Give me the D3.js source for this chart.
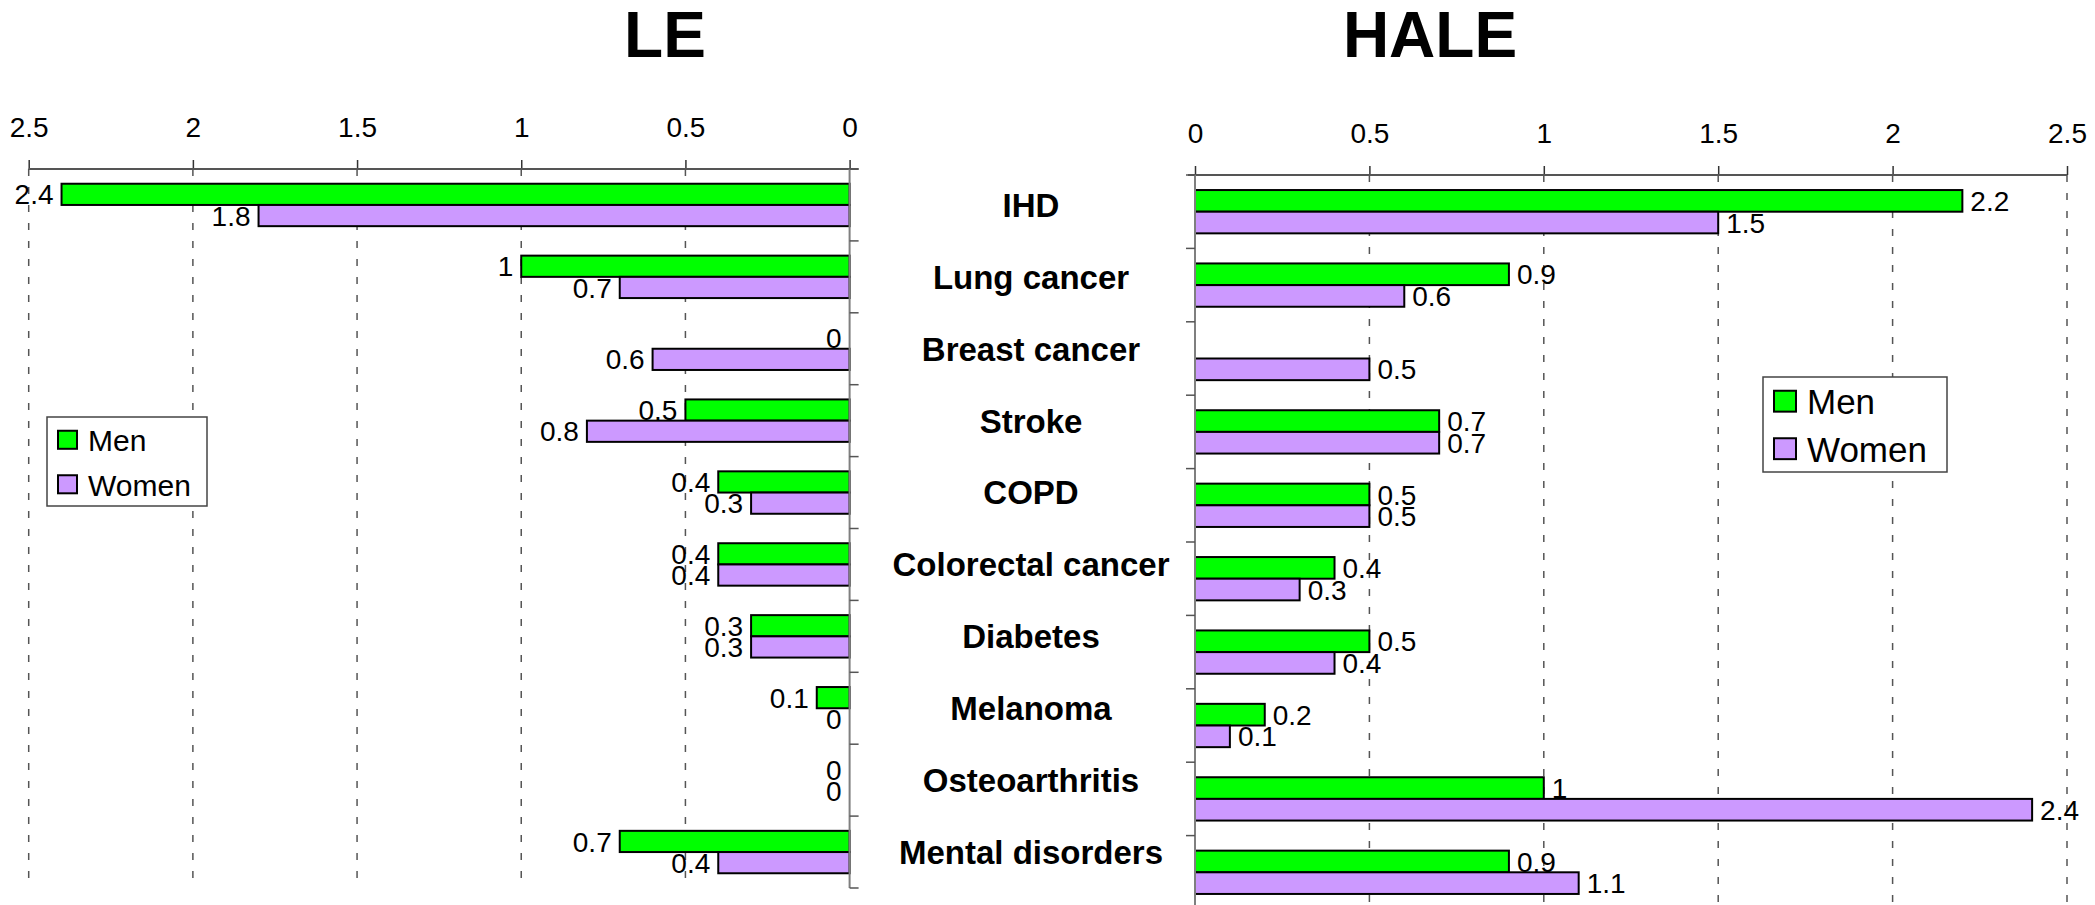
<!DOCTYPE html>
<html>
<head>
<meta charset="utf-8">
<script src="https://cdn.jsdelivr.net/npm/d3@7/dist/d3.min.js"></script>
<style>
  html, body { margin: 0; padding: 0; background: #ffffff; }
  svg { display: block; }
  text { font-family: "Liberation Sans", Arial, sans-serif; fill: #000; }
</style>
</head>
<body>
<svg id="chart" width="2095" height="905"></svg>
<script>
// Causes of loss, in years
const categories = ["IHD", "Lung cancer", "Breast cancer", "Stroke", "COPD",
  "Colorectal cancer", "Diabetes", "Melanoma", "Osteoarthritis", "Mental disorders"];
const seriesNames = ["Men", "Women"];
const leMen     = [2.4, 1, 0, 0.5, 0.4, 0.4, 0.3, 0.1, 0, 0.7];
const leWomen   = [1.8, 0.7, 0.6, 0.8, 0.3, 0.4, 0.3, 0, 0, 0.4];
const haleMen   = [2.2, 0.9, null, 0.7, 0.5, 0.4, 0.5, 0.2, 1, 0.9];
const haleWomen = [1.5, 0.6, 0.5, 0.7, 0.5, 0.3, 0.4, 0.1, 2.4, 1.1];
const tickValues = [0, 0.5, 1, 1.5, 2, 2.5];

const colors = { Men: "#00ff00", Women: "#cc99ff" };
const axisGray = "#7f7f7f";

const svg = d3.select("#chart");

// Panel layouts
const panels = [
  {
    title: "LE", titleX: 665,
    men: leMen, women: leWomen,
    x: d3.scaleLinear().domain([0, 2.5]).range([849.6, 28.7]),
    y: d3.scaleBand().domain(categories).range([169, 888]),
    dir: -1,
    legend: { x: 47, y: 417, w: 160, h: 89, font: 30, sw: 19, pad: 11 }
  },
  {
    title: "HALE", titleX: 1430,
    men: haleMen, women: haleWomen,
    x: d3.scaleLinear().domain([0, 2.5]).range([1195, 2067]),
    y: d3.scaleBand().domain(categories).range([175, 909]),
    dir: 1,
    legend: { x: 1763, y: 377, w: 184, h: 95, font: 35, sw: 22, pad: 11 }
  }
];

panels.forEach(p => {
  const g = svg.append("g");
  const x = p.x, y = p.y;
  const x0 = x(0);
  const top = y.range()[0], bottom = y.range()[1];
  const step = y.step();

  // Title
  g.append("text")
    .attr("x", p.titleX).attr("y", 57)
    .attr("text-anchor", "middle")
    .style("font-size", "64px").style("font-weight", "bold")
    .text(p.title);

  // Dashed gridlines
  g.append("g").selectAll("line")
    .data(tickValues.filter(d => d !== 0))
    .join("line")
    .attr("x1", d => x(d)).attr("x2", d => x(d))
    .attr("y1", top).attr("y2", bottom)
    .attr("stroke", "#555").attr("stroke-width", 1.5)
    .attr("stroke-dasharray", "7,11");

  // Value axis on top
  const axis = d3.axisTop(x)
    .tickValues(tickValues)
    .tickFormat(d3.format(""))
    .tickSizeInner(9).tickSizeOuter(0).tickPadding(23);
  const ax = g.append("g").attr("transform", `translate(0,${top})`).call(axis);
  ax.select(".domain").remove();
  ax.selectAll(".tick line").attr("stroke", "#333").attr("stroke-width", 1.5);
  ax.selectAll(".tick text")
    .style("font-size", "28px")
    .style("font-family", "\"Liberation Sans\", Arial, sans-serif")
    .attr("fill", "#000");
  const xMin = Math.min(x(0), x(2.5)), xMax = Math.max(x(0), x(2.5));
  g.append("line")
    .attr("x1", p.dir < 0 ? xMin : x0 - 7)
    .attr("x2", p.dir < 0 ? x0 + 9 : xMax)
    .attr("y1", top).attr("y2", top)
    .attr("stroke", "#555").attr("stroke-width", 2);

  // Bars
  const bandOff = 0.205 * step, barH = 0.295 * step;
  const rows = [];
  categories.forEach((c, i) => {
    rows.push({ cat: c, s: "Men", v: p.men[i], y0: y(c) + bandOff });
    rows.push({ cat: c, s: "Women", v: p.women[i], y0: y(c) + bandOff + barH });
  });

  g.append("g").selectAll("rect")
    .data(rows.filter(r => r.v !== null && r.v > 0))
    .join("rect")
    .attr("x", r => Math.min(x(r.v), x0))
    .attr("width", r => Math.abs(x(r.v) - x0))
    .attr("y", r => r.y0)
    .attr("height", barH)
    .attr("fill", r => colors[r.s])
    .attr("stroke", "#000").attr("stroke-width", 2);

  // Value labels
  g.append("g").selectAll("text")
    .data(rows.filter(r => r.v !== null))
    .join("text")
    .attr("x", r => x(r.v) + p.dir * 8)
    .attr("y", r => r.y0 + barH / 2)
    .attr("dy", "0.36em")
    .attr("text-anchor", p.dir < 0 ? "end" : "start")
    .style("font-size", "28px")
    .text(r => d3.format("")(r.v));

  // Category axis with ticks at band boundaries
  g.append("line")
    .attr("x1", x0).attr("x2", x0)
    .attr("y1", top).attr("y2", bottom)
    .attr("stroke", axisGray).attr("stroke-width", 2);
  g.append("g").selectAll("line")
    .data(d3.range(categories.length + 1))
    .join("line")
    .attr("x1", x0).attr("x2", x0 - p.dir * 9)
    .attr("y1", i => top + i * step).attr("y2", i => top + i * step)
    .attr("stroke", "#555").attr("stroke-width", 1.5);

  // Legend
  const L = p.legend;
  const lg = g.append("g").attr("transform", `translate(${L.x},${L.y})`);
  lg.append("rect")
    .attr("width", L.w).attr("height", L.h)
    .attr("fill", "#fff").attr("stroke", "#444").attr("stroke-width", 1.5);
  const rowH = L.h / 2;
  seriesNames.forEach((s, i) => {
    const cy = rowH * i + rowH / 2 + 1;
    lg.append("rect")
      .attr("x", L.pad).attr("y", cy - L.sw / 2)
      .attr("width", L.sw).attr("height", L.sw * 0.95)
      .attr("fill", colors[s]).attr("stroke", "#000").attr("stroke-width", 2);
    lg.append("text")
      .attr("x", L.pad + L.sw + 11).attr("y", cy)
      .attr("dy", "0.36em")
      .style("font-size", L.font + "px")
      .text(s);
  });
});

// Category names between the panels, centred on the LE bands
const yCat = panels[0].y;
svg.append("g").selectAll("text")
  .data(categories)
  .join("text")
  .attr("x", 1031)
  .attr("y", d => yCat(d) + yCat.bandwidth() / 2)
  .attr("dy", "0.36em")
  .attr("text-anchor", "middle")
  .style("font-size", "33px").style("font-weight", "bold")
  .text(d => d);
</script>
</body>
</html>
